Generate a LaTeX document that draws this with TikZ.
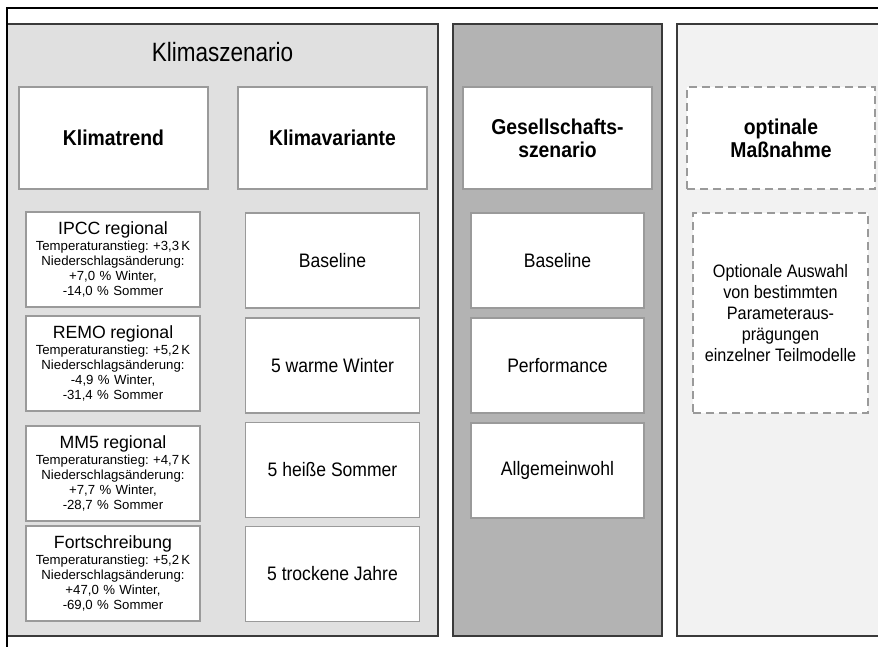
\documentclass[tikz,border=0pt]{standalone}
\usepackage{fontspec}
\setmainfont{Liberation Sans}
\newfontfamily\narrowfont{Liberation Sans}[FakeStretch=0.85]
\newfontfamily\headfont{Liberation Sans}[FakeStretch=0.9]
\newcommand\modeltext{\frenchspacing\fontsize{13.2}{15.2}\selectfont}
\newcommand\modeltitle{\fontsize{17.7}{15.2}\selectfont}
\definecolor{klimafill}{HTML}{E0E0E0}
\definecolor{gesfill}{HTML}{B3B3B3}
\definecolor{optfill}{HTML}{F2F2F2}
\definecolor{panelline}{HTML}{3A3A3A}
\definecolor{boxline}{HTML}{9A9A9A}

\begin{document}
\begin{tikzpicture}[x=1pt, y=-1pt,
  panel/.style={draw=panelline, line width=1.2pt, minimum height=612pt, inner sep=0pt},
  headbox/.style={draw=boxline, line width=1.2pt, fill=white, minimum width=189pt, minimum height=102pt, align=center, inner sep=0pt, font=\headfont\bfseries\fontsize{21.5}{23}\selectfont},
  modelbox/.style={draw=boxline, line width=1.2pt, fill=white, minimum width=174pt, minimum height=95pt, text width=170pt, align=center, inner sep=2pt, font=\modeltext},
  casebox/.style={draw=boxline, line width=1.2pt, fill=white, minimum width=174pt, minimum height=95pt, align=center, inner sep=0pt, font=\headfont\fontsize{19.5}{21}\selectfont},
  optbox/.style={draw=boxline, line width=1.2pt, dash pattern=on 8pt off 5pt, fill=white, minimum width=175pt, align=center, inner sep=0pt}
]

\useasboundingbox (0,0) rectangle (878,647);
\clip (0,0) rectangle (878,647);

% Saeulen
\node[panel, fill=klimafill, minimum width=431pt] (klima) at (222.5,330) {};
\node[panel, fill=gesfill, minimum width=209pt] (gesell) at (557.5,330) {};
\node[panel, fill=optfill, minimum width=230pt] (option) at (792,330) {};
\draw[line width=1.5pt] (7,647) -- (7,8) -- (878,8);

\node[font=\narrowfont\fontsize{26.5}{30}\selectfont] (klimatitle) at (222.5,52) {Klimaszenario};

% Kopfzeile
\node[headbox] (trend) at (113.5,138) {Klimatrend};
\node[headbox] (variante) at (332.5,138) {Klimavariante};
\node[headbox] (gesellhead) at (557.5,138) {Gesellschafts-\\szenario};
\node[headbox, optbox, minimum width=188pt, minimum height=102pt] (opthead) at (781,138) {optinale\\Maßnahme};

% Klimatrend
\node[modelbox] (ipcc) at (113,259.5) {{\modeltitle IPCC regional}\\[0.8pt] Temperaturanstieg: +3,3\,K\\ Niederschlagsänderung:\\ +7,0 \% Winter,\\ -14,0 \% Sommer};
\node[modelbox] (remo) at (113,363.5) {{\modeltitle REMO regional}\\[0.8pt] Temperaturanstieg: +5,2\,K\\ Niederschlagsänderung:\\ -4,9 \% Winter,\\ -31,4 \% Sommer};
\node[modelbox] (mmfive) at (113,473.5) {{\modeltitle MM5 regional}\\[0.8pt] Temperaturanstieg: +4,7\,K\\ Niederschlagsänderung:\\ +7,7 \% Winter,\\ -28,7 \% Sommer};
\node[modelbox] (fort) at (113,573.5) {{\modeltitle Fortschreibung}\\[0.8pt] Temperaturanstieg: +5,2\,K\\ Niederschlagsänderung:\\ +47,0 \% Winter,\\ -69,0 \% Sommer};

% Klimavariante
\node[casebox] (vbase) at (332.5,260.5) {Baseline};
\node[casebox] (vwinter) at (332.5,365.5) {5 warme Winter};
\node[casebox] (vsommer) at (332.5,470) {5 heiße Sommer};
\node[casebox] (vjahre) at (332.5,574) {5 trockene Jahre};

% Gesellschaftsszenario
\node[casebox, minimum width=173pt] (gbase) at (557.5,260.5) {Baseline};
\node[casebox, minimum width=173pt] (gperf) at (557.5,365.5) {Performance};
\node[casebox, minimum width=173pt] (gwohl) at (557.5,470.5) {Allgemeinwohl};

% optionale Massnahme
\node[optbox, minimum height=200pt, font=\headfont\fontsize{18}{20.8}\selectfont] (optwahl) at (780.5,313) {Optionale Auswahl\\von bestimmten\\Parameteraus-\\prägungen\\einzelner Teilmodelle};

\end{tikzpicture}
\end{document}
